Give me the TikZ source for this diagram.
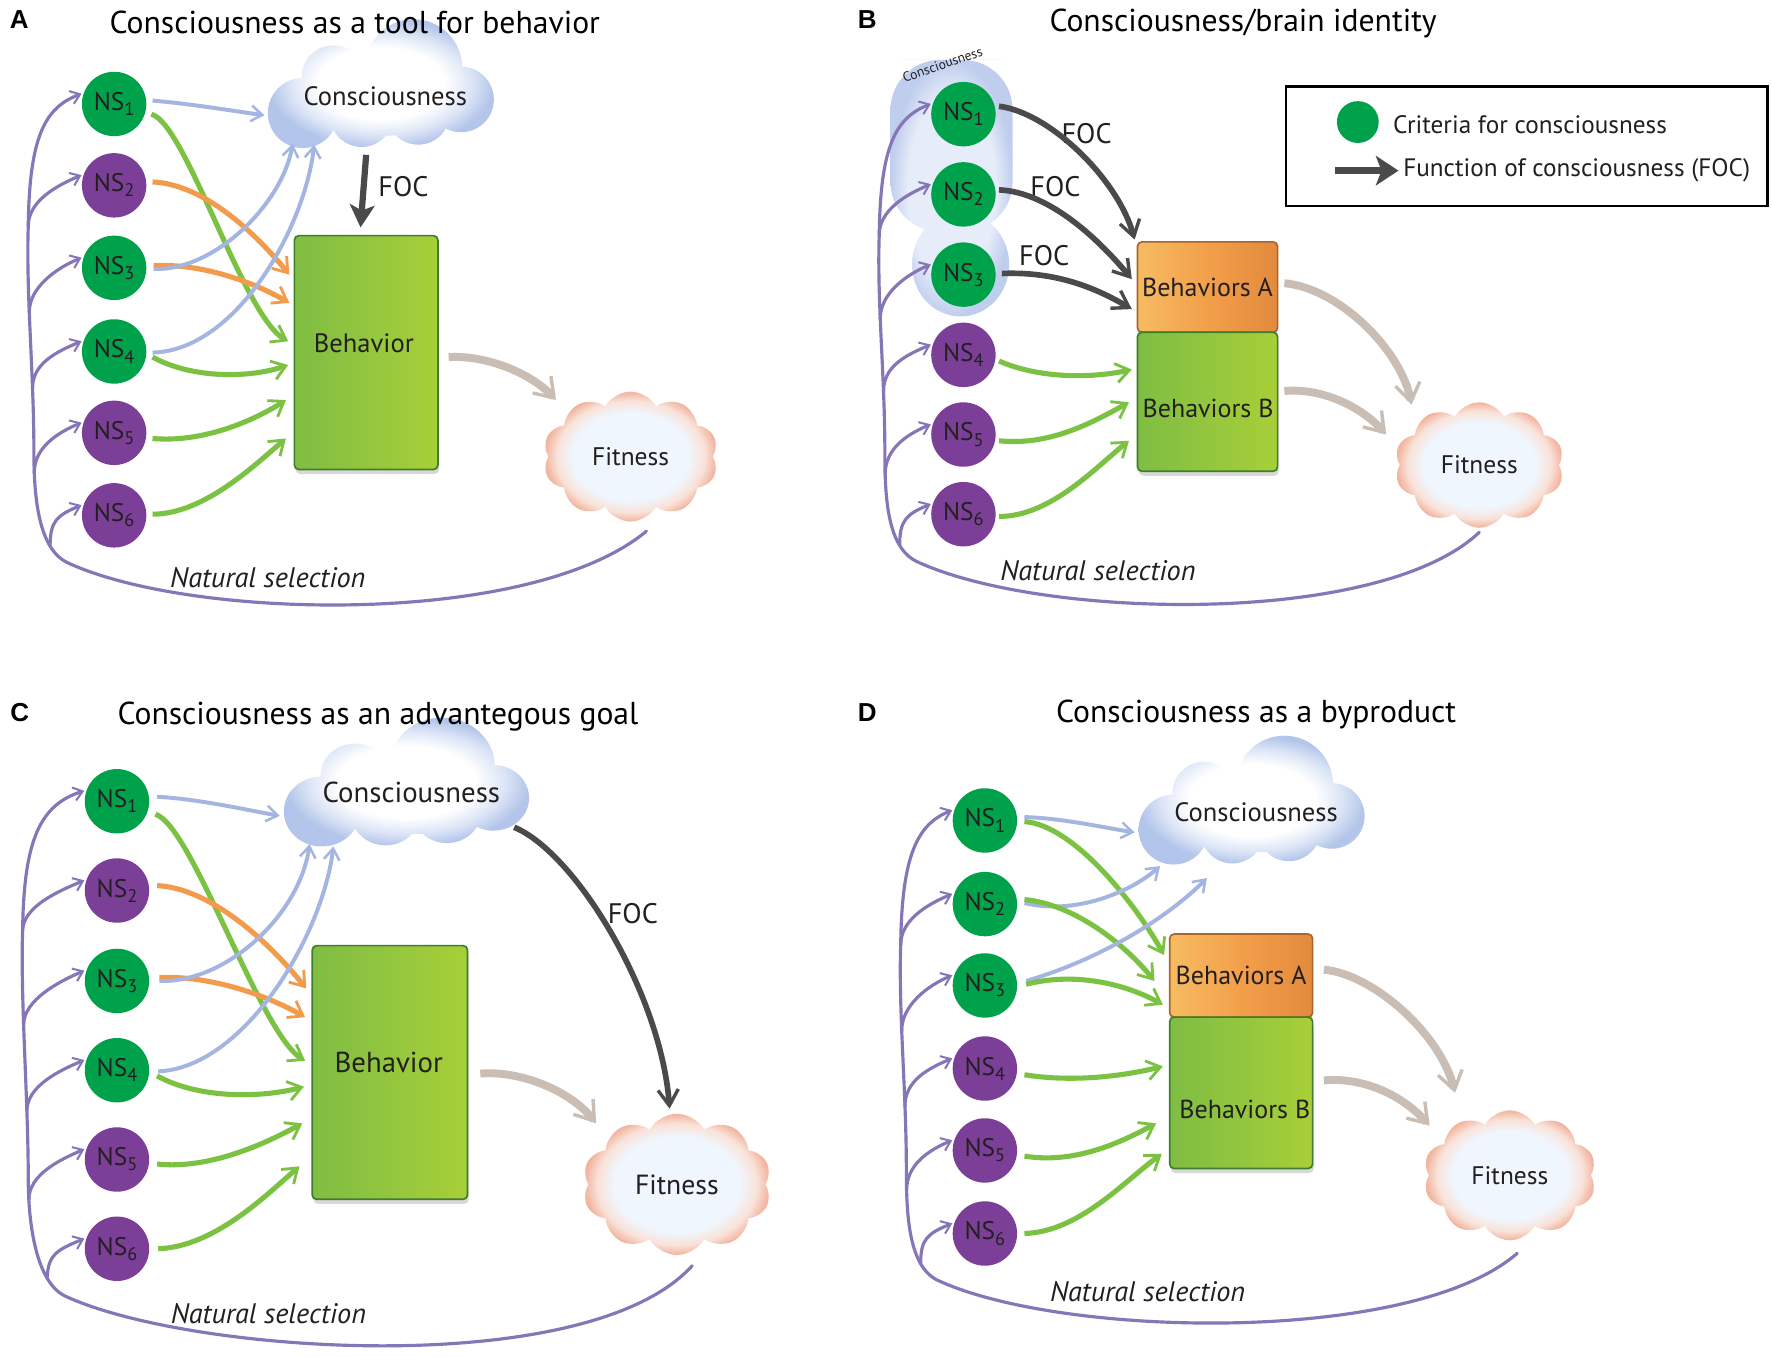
\documentclass[tikz,border=0pt]{standalone}
\usepackage{fontspec}
\usepackage{graphicx}
\setmainfont{PT Sans}
\newfontfamily\letterfont{Liberation Sans}
\usetikzlibrary{arrows.meta,shapes.symbols,shadows,calc}
\definecolor{nsgreen}{HTML}{00A14B}
\definecolor{nspurple}{HTML}{7B3F98}
\definecolor{txt}{HTML}{231F20}
\definecolor{arblue}{HTML}{A3B5E0}
\definecolor{arorange}{HTML}{F49A4B}
\definecolor{argreen}{HTML}{7BC243}
\definecolor{focgray}{HTML}{4A4A4C}
\definecolor{artan}{HTML}{C9BDB4}
\definecolor{nspath}{HTML}{8576B7}
\definecolor{cblue}{HTML}{B3C5EA}
\definecolor{cbluemid}{HTML}{DCE5F6}
\definecolor{blobin}{HTML}{E6ECF8}
\definecolor{blobout}{HTML}{C0CEEE}
\definecolor{fitin}{HTML}{F0F6FD}
\definecolor{fitmid}{HTML}{F9E2D8}
\definecolor{fitout}{HTML}{F2B39D}
\definecolor{bxgdk}{HTML}{3F7F2B}
\definecolor{bxg1}{HTML}{7FBD43}
\definecolor{bxg2}{HTML}{A8CF38}
\definecolor{bxg3}{HTML}{93C63E}
\definecolor{bxodk}{HTML}{A8652D}
\definecolor{bxo1}{HTML}{F6BC62}
\definecolor{bxo2}{HTML}{E38A3D}
\definecolor{bxo3}{HTML}{F39F4A}
\pgfdeclareradialshading{conscshade}{\pgfpoint{0bp}{0bp}}{color(0bp)=(white); color(14bp)=(white); color(20bp)=(cbluemid); color(25bp)=(cblue); color(50bp)=(cblue)}
\pgfdeclareradialshading{blobshade}{\pgfpoint{0bp}{0bp}}{color(0bp)=(blobin); color(18bp)=(blobin); color(25bp)=(blobout); color(50bp)=(blobout)}
\pgfdeclareradialshading{fitshade}{\pgfpoint{0bp}{0bp}}{color(0bp)=(fitin); color(17bp)=(fitin); color(21.5bp)=(fitmid); color(25bp)=(fitout); color(50bp)=(fitout)}
\newcommand\NSl[1]{NS\raisebox{-0.2em}{\scalebox{0.72}{#1}}}
\newcommand\conscloud[3]{%
  \begin{scope}[shift={(#1,#2)}, xscale=#3]
    \shade[shading=conscshade] (-73,15) circle[radius=31] (-46,-17) circle[radius=28]
      (25,-25) circle[radius=43] (67,3) circle[radius=29] (-21,17) circle[radius=28]
      (29,15) circle[radius=28] (-1,5) ellipse[x radius=80,y radius=30];
  \end{scope}}
\tikzset{
  ns/.style={circle, inner sep=0pt, minimum size=57pt, text=txt, font=\fontsize{22.5}{22}\selectfont},
  nsg/.style={ns, fill=nsgreen}, nsp/.style={ns, fill=nspurple},
  lbl/.style={text=txt, inner sep=0pt, font=\fontsize{23.5}{24}\selectfont},
  lblc/.style={text=txt, inner sep=0pt, font=\fontsize{25.5}{26}\selectfont},
  foclbl/.style={text=txt, inner sep=0pt, font=\fontsize{25}{26}\selectfont},
  ttl/.style={text=black, inner sep=0pt, font=\fontsize{28}{30}\selectfont},
  letr/.style={text=black, inner sep=0pt, font=\letterfont\bfseries\fontsize{23}{23}\selectfont},
  nslbl/.style={text=txt, inner sep=0pt, font=\itshape\fontsize{25}{26}\selectfont},
  leglbl/.style={text=txt, inner sep=0pt, anchor=west, font=\fontsize{22.3}{24}\selectfont},
  fitc/.style={cloud, cloud puffs=10, cloud puff arc=120, aspect=1.35, inner sep=0pt, shade, shading=fitshade, text=txt, font=\fontsize{22.5}{24}\selectfont},
  gbox/.style={rectangle, rounded corners=4pt, draw=bxgdk, line width=1.5pt, left color=bxg1, right color=bxg2, middle color=bxg3, inner sep=0pt, drop shadow={opacity=0.3, shadow xshift=1pt, shadow yshift=-4pt}},
  obox/.style={rectangle, rounded corners=4pt, draw=bxodk, line width=1.5pt, left color=bxo1, right color=bxo2, middle color=bxo3, inner sep=0pt, text=txt, font=\fontsize{23}{24}\selectfont},
  blu/.style={draw=arblue, line width=3.5pt, -{Straight Barb[length=10pt,width=14pt,line width=2.2pt]}},
  org/.style={draw=arorange, line width=4.5pt, -{Straight Barb[length=12pt,width=17pt,line width=2.5pt]}},
  grn/.style={draw=argreen, line width=4.5pt, -{Straight Barb[length=12pt,width=17pt,line width=2.5pt]}},
  tanarr/.style={draw=artan, line width=7pt, -{Straight Barb[length=16pt,width=22pt,line width=3pt]}},
  focfill/.style={draw=focgray, line width=5.5pt, -{Stealth[length=20pt,width=22pt,inset=5pt]}},
  focbarb/.style={draw=focgray, line width=5pt, -{Straight Barb[length=14pt,width=18pt,line width=3pt]}},
  nsel/.style={draw=nspath, line width=2.8pt, line cap=round},
  nsarr/.style={nsel, -{Straight Barb[length=8pt,width=12pt,line width=1.8pt]}, shorten >=2pt},
}
\begin{document}
\begin{tikzpicture}[x=1pt,y=-1pt]
\useasboundingbox (0,0) rectangle (1568,1200);
\fill[white] (0,0) rectangle (1568,1200);

% ---------------- clouds ----------------
\conscloud{341}{85}{1}
\conscloud{364}{703}{1.085}
\conscloud{1111.5}{719}{1}
\shade[shading=blobshade] [rounded corners=44pt] (842,53) -- (896,53) -- (896,205) -- (788,205) -- (788,53) -- cycle
  [sharp corners] (850,234) ellipse[x radius=43,y radius=46];

\node[fitc, minimum width=155pt, minimum height=115pt] (aF) at (558,404) {Fitness};
\node[fitc, minimum width=150pt, minimum height=111pt] (bF) at (1309,411.5) {Fitness};
\node[fitc, minimum width=167pt, minimum height=125pt, font=\fontsize{24.5}{26}\selectfont] (cF) at (599,1048) {Fitness};
\node[fitc, minimum width=153pt, minimum height=115pt] (dF) at (1336,1040) {Fitness};

% ---------------- boxes ----------------
\node[gbox, minimum width=127pt, minimum height=207pt] (aB) at (324,312) {};
\node[lbl] (aBt) at (322,304) {Behavior};
\node[obox, minimum width=124pt, minimum height=80pt] (bBa) at (1068.5,254) {Behaviors A};
\node[gbox, minimum width=124pt, minimum height=123pt] (bBb) at (1068.5,355.5) {};
\node[lbl, font=\fontsize{23}{24}\selectfont] (bBbt) at (1069,361.5) {Behaviors B};
\node[gbox, minimum width=137.5pt, minimum height=224.5pt] (cB) at (345,949) {};
\node[lblc] (cBt) at (344,940) {Behavior};
\node[obox, minimum width=126.5pt, minimum height=73.5pt] (dBa) at (1098.25,863.25) {Behaviors A};
\node[gbox, minimum width=126.5pt, minimum height=134pt] (dBb) at (1098.25,967) {};
\node[lbl, font=\fontsize{23}{24}\selectfont] (dBbt) at (1101.5,981.8) {Behaviors B};

% ---------------- texts ----------------
\node[letr] (aL) at (17,17) {A};
\node[letr] (bL) at (767.5,17) {B};
\node[letr] (cL) at (17.5,630.6) {C};
\node[letr] (dL) at (767.5,630.6) {D};
\node[ttl] (aT) at (314,20) {Consciousness as a tool for behavior};
\node[ttl] (bT) at (1100,21) {Consciousness/brain identity};
\node[ttl] (cT) at (334.5,634) {Consciousness as an advantegous goal};
\node[ttl] (dT) at (1111.5,632.5) {Consciousness as a byproduct};
\node[lbl] (aCt) at (341,85) {Consciousness};
\node[lblc] (cCt) at (364,701) {Consciousness};
\node[lbl] (dCt) at (1111.5,719) {Consciousness};
\node[text=txt, inner sep=0pt, rotate=19, font=\fontsize{12}{12}\selectfont] (bCt) at (834,57) {Consciousness};
\node[foclbl] (aFOC) at (357,165) {FOC};
\node[foclbl] (bFOC1) at (961.5,118) {FOC};
\node[foclbl] (bFOC2) at (934,165) {FOC};
\node[foclbl] (bFOC3) at (924,226) {FOC};
\node[foclbl] (cFOC) at (560,808.5) {FOC};
\node[nslbl] (aNS) at (237,511) {Natural selection};
\node[nslbl] (bNS) at (971.5,505) {Natural selection};
\node[nslbl] (cNS) at (237.5,1162) {Natural selection};
\node[nslbl] (dNS) at (1015.5,1143) {Natural selection};

% ---------------- legend ----------------
\node[draw=black, line width=2pt, minimum width=426pt, minimum height=105.5pt, inner sep=0pt] (legend) at (1351,129.25) {};
\node[circle, fill=nsgreen, minimum size=37pt, inner sep=0pt] (legdot) at (1201.5,108) {};
\node[leglbl] (legt1) at (1232.5,110) {Criteria for consciousness};
\node[leglbl] (legt2) at (1241.5,151) {Function of consciousness (FOC)};
\coordinate (legs) at (1181.5,151);
\draw[draw=focgray, line width=6pt, -{Stealth[length=20pt,width=26pt,inset=5pt]}, shorten >=4pt] (legs) -- (legt2.west);

% ---------------- NS nodes ----------------
\node[nsg] (a1) at (101,92) {\NSl{1}};
\node[nsp] (a2) at (101,164) {\NSl{2}};
\node[nsg] (a3) at (101,237) {\NSl{3}};
\node[nsg] (a4) at (101,311) {\NSl{4}};
\node[nsp] (a5) at (101,383) {\NSl{5}};
\node[nsp] (a6) at (101,456) {\NSl{6}};
\node[nsg] (b1) at (852.5,101) {\NSl{1}};
\node[nsg] (b2) at (852.5,172) {\NSl{2}};
\node[nsg] (b3) at (852.5,243) {\NSl{3}};
\node[nsp] (b4) at (852.5,314) {\NSl{4}};
\node[nsp] (b5) at (852.5,384.5) {\NSl{5}};
\node[nsp] (b6) at (852.5,455) {\NSl{6}};
\begin{scope}[every node/.append style={minimum size=62pt, font=\fontsize{24}{24}\selectfont}]
\node[nsg] (c1) at (103.5,709) {\NSl{1}};
\node[nsp] (c2) at (103.5,788) {\NSl{2}};
\node[nsg] (c3) at (103.5,868) {\NSl{3}};
\node[nsg] (c4) at (103.5,947) {\NSl{4}};
\node[nsp] (c5) at (103.5,1026) {\NSl{5}};
\node[nsp] (c6) at (103.5,1105) {\NSl{6}};
\end{scope}
\node[nsg] (d1) at (871.5,726) {\NSl{1}};
\node[nsg] (d2) at (871.5,800) {\NSl{2}};
\node[nsg] (d3) at (871.5,872) {\NSl{3}};
\node[nsp] (d4) at (871.5,945.5) {\NSl{4}};
\node[nsp] (d5) at (871.5,1018) {\NSl{5}};
\node[nsp] (d6) at (871.5,1091.5) {\NSl{6}};

\coordinate (aJ) at (60,498);
\coordinate (bJ) at (811.5,497);
\coordinate (cJ) at (58,1147);
\coordinate (dJ) at (830,1133);

% ---------------- panel A arrows ----------------
\draw[blu] ($(a1)+(34,-3)$) .. controls (170,92) and (205,98) .. ($(aCt)+(-107,17)$);
\draw[grn] ($(a1)+(33,9)$) .. controls (165,110) and (215,280) .. ($(aB)+(-69,-10)$);
\draw[org] ($(a2)+(34,-3)$) .. controls (180,163) and (225,205) .. ($(aB)+(-68,-69)$);
\draw[org] ($(a3)+(35,-2)$) .. controls (180,233) and (225,250) .. ($(aB)+(-68,-44)$);
\draw[blu] ($(a3)+(35,1)$) .. controls (190,240) and (250,180) .. ($(aCt)+(-82,42)$);
\draw[blu] ($(a4)+(34,1)$) .. controls (210,310) and (270,200) .. ($(aCt)+(-63,43)$);
\draw[grn] ($(a4)+(34,5)$) .. controls (170,335) and (220,335) .. ($(aB)+(-69,11)$);
\draw[grn] ($(a5)+(34,5)$) .. controls (180,392) and (225,372) .. ($(aB)+(-71,42)$);
\draw[grn] ($(a6)+(34,-1)$) .. controls (180,455) and (225,412) .. ($(aB)+(-71,76)$);
\draw[focfill] ($(aCt)+(-17,52)$) -- ($(aB.north)+(-5,-6.5)$);
\draw[tanarr] ($(aB)+(73,4)$) .. controls (430,314) and (470,330) .. ($(aF)+(-66,-50)$);
\draw[nsarr] ($(aF)+(14,66)$) .. controls (470,555) and (170,549) .. (aJ)
  .. controls (34,486) and (30,440) .. coordinate[pos=0.25] (aS6) coordinate[pos=0.85] (aS5) (30,400)
  .. controls (30,330) and (23,260) .. coordinate[pos=0.27] (aS4) coordinate[pos=0.6] (aS3) (25,200) coordinate (aS2)
  .. controls (26,120) and (40,95) .. (a1.160);
\foreach \i in {2,...,6}
  \draw[nsarr] (aS\i) .. controls ($(aS\i)+(0,-22)$) and ($(a\i.160)+(-24,10)$) .. (a\i.160);

% ---------------- panel B arrows ----------------
\draw[focbarb] ($(b1)+(31.5,-7)$) .. controls (930,100) and (990,160) .. ($(bBa)+(-64.5,-42)$);
\draw[focbarb] ($(b2)+(31.5,-4)$) .. controls (930,170) and (975,215) .. ($(bBa)+(-67,-7)$);
\draw[focbarb] ($(b3)+(34,-1)$) .. controls (935,240) and (970,255) .. ($(bBa)+(-67,19.5)$);
\draw[grn] ($(b4)+(31.5,5.5)$) .. controls (920,335) and (965,335) .. ($(bBb)+(-67,-28.5)$);
\draw[grn] ($(b5)+(31.5,5.5)$) .. controls (930,395) and (970,372) .. ($(bBb)+(-69.5,0.5)$);
\draw[grn] ($(b6)+(31.5,2)$) .. controls (930,457) and (970,413) .. ($(bBb)+(-69.5,34.5)$);
\draw[tanarr] ($(bBa)+(68,-3.4)$) .. controls (1185,255) and (1240,310) .. ($(bF)+(-60,-53.5)$);
\draw[tanarr] ($(bBb)+(68,-9.5)$) .. controls (1170,343) and (1205,360) .. ($(bF)+(-82.5,-27)$);
\draw[nsarr] ($(bF)+(0,59.5)$) .. controls (1220,555) and (921.5,548) .. (bJ)
  .. controls (785.5,485) and (783,441.5) .. coordinate[pos=0.25] (bS6) coordinate[pos=0.85] (bS5) (783,401.5)
  .. controls (783,331.5) and (776,268) .. coordinate[pos=0.27] (bS4) coordinate[pos=0.6] (bS3) (778,208) coordinate (bS2)
  .. controls (779,128) and (793,104) .. (b1.160);
\foreach \i in {2,...,6}
  \draw[nsarr] (bS\i) .. controls ($(bS\i)+(0,-22)$) and ($(b\i.160)+(-24,10)$) .. (b\i.160);

% ---------------- panel C arrows ----------------
\draw[blu] ($(c1)+(35.5,-4)$) .. controls (175,707) and (215,716) .. ($(cCt)+(-116.5,21)$);
\draw[grn] ($(c1)+(34,11.5)$) .. controls (170,730) and (230,915) .. ($(cB)+(-75,-10.4)$);
\draw[org] ($(c2)+(35.5,-4.4)$) .. controls (185,786) and (235,830) .. ($(cB)+(-74,-74.3)$);
\draw[org] ($(c3)+(37.5,-3)$) .. controls (185,863) and (235,880) .. ($(cB)+(-75,-49)$);
\draw[blu] ($(c3)+(37.5,0)$) .. controls (200,870) and (265,810) .. ($(cCt)+(-90,46)$);
\draw[blu] ($(c4)+(36.5,1)$) .. controls (215,945) and (285,830) .. ($(cCt)+(-69,48)$);
\draw[grn] ($(c4)+(35.5,5)$) .. controls (175,972) and (230,972) .. ($(cB)+(-76,12.6)$);
\draw[grn] ($(c5)+(35.5,4)$) .. controls (185,1035) and (235,1012) .. ($(cB)+(-77.5,45)$);
\draw[grn] ($(c6)+(36.5,0)$) .. controls (190,1103) and (235,1058) .. ($(cB)+(-80,83)$);
\draw[tanarr] ($(cB)+(80,1)$) .. controls (460,947) and (505,965) .. ($(cF)+(-71.5,-54)$);
\draw[focbarb] ($(cCt)+(91,31)$) .. controls (510,755) and (585,880) .. ($(cF)+(-6.5,-67)$);
\draw[nsarr] ($(cF)+(13.5,72)$) .. controls (520,1222) and (168,1198) .. (cJ)
  .. controls (32,1135) and (25,1083) .. coordinate[pos=0.25] (cS6) coordinate[pos=0.85] (cS5) (25,1043)
  .. controls (25,973) and (18,884) .. coordinate[pos=0.27] (cS4) coordinate[pos=0.6] (cS3) (20,824) coordinate (cS2)
  .. controls (21,744) and (35,712) .. (c1.160);
\foreach \i in {2,...,6}
  \draw[nsarr] (cS\i) .. controls ($(cS\i)+(0,-22)$) and ($(c\i.160)+(-24,10)$) .. (c\i.160);

% ---------------- panel D arrows ----------------
\draw[blu] ($(d1)+(35,-3)$) .. controls (940,724) and (975,732) .. ($(dCt)+(-107.5,17.6)$);
\draw[grn] ($(d1)+(35,1)$) .. controls (950,730) and (1005,800) .. ($(dBa)+(-68.25,-18.25)$);
\draw[blu] ($(d2)+(35,-1)$) .. controls (950,810) and (1000,790) .. ($(dCt)+(-85,47.4)$);
\draw[grn] ($(d2)+(35,-4)$) .. controls (950,800) and (995,835) .. ($(dBa)+(-76.75,4.75)$);
\draw[blu] ($(d3)+(36.5,-4)$) .. controls (970,850) and (1030,815) .. ($(dCt)+(-43.5,58)$);
\draw[grn] ($(d3)+(36.5,-1)$) .. controls (950,860) and (995,870) .. ($(dBa)+(-69.25,25.75)$);
\draw[grn] ($(d4)+(35,5.5)$) .. controls (950,958) and (995,952) .. ($(dBb)+(-69.25,-23.4)$);
\draw[grn] ($(d5)+(35,5)$) .. controls (950,1030) and (990,1012) .. ($(dBb)+(-75.25,27)$);
\draw[grn] ($(d6)+(35,0)$) .. controls (955,1090) and (995,1045) .. ($(dBb)+(-70.25,54)$);
\draw[tanarr] ($(dBa)+(73.25,-5.25)$) .. controls (1215,862) and (1275,915) .. ($(dF)+(-48.5,-73)$);
\draw[tanarr] ($(dBb)+(73.25,-11)$) .. controls (1205,953) and (1240,968) .. ($(dF)+(-71,-44)$);
\draw[nsarr] ($(dF)+(6.5,69)$) .. controls (1250,1190) and (940,1184) .. (dJ)
  .. controls (804,1121) and (802,1075) .. coordinate[pos=0.25] (dS6) coordinate[pos=0.85] (dS5) (802,1035)
  .. controls (802,965) and (795,896) .. coordinate[pos=0.27] (dS4) coordinate[pos=0.6] (dS3) (797,836) coordinate (dS2)
  .. controls (798,756) and (812,729) .. (d1.160);
\foreach \i in {2,...,6}
  \draw[nsarr] (dS\i) .. controls ($(dS\i)+(0,-22)$) and ($(d\i.160)+(-24,10)$) .. (d\i.160);
\end{tikzpicture}
\end{document}
